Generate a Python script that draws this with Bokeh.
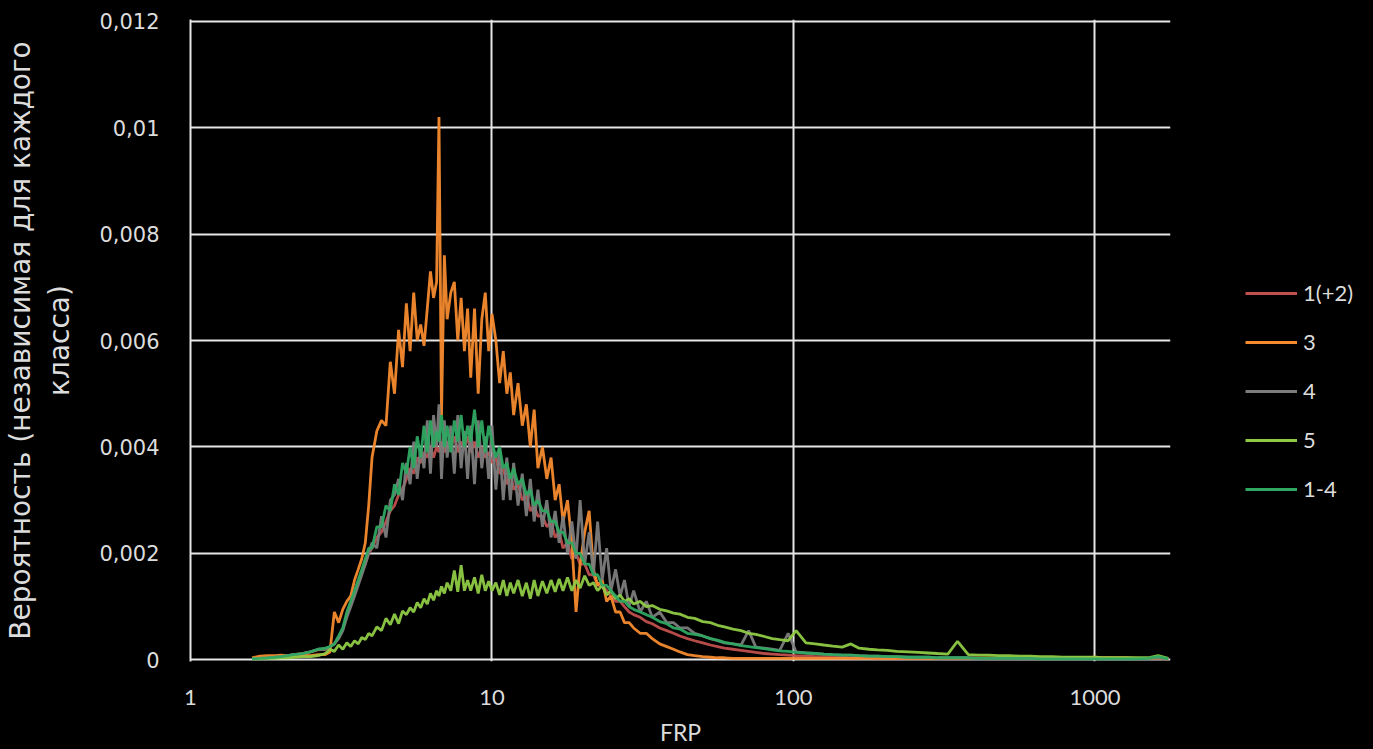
from bokeh.plotting import figure
from bokeh.layouts import row
from bokeh.models import FixedTicker, Legend, LegendItem, Range1d
from bokeh.embed import file_html
from bokeh.resources import INLINE

FRP = [
    1.6, 1.7, 1.8, 1.9, 2.0, 2.1, 2.2, 2.35, 2.5, 2.65,
    2.8, 2.9, 3.0, 3.1, 3.2, 3.3, 3.4, 3.5, 3.6, 3.7,
    3.8, 3.9, 4.0, 4.15, 4.3, 4.45, 4.6, 4.75, 4.9, 5.05,
    5.2, 5.35, 5.5, 5.65, 5.8, 5.95, 6.1, 6.25, 6.4, 6.55,
    6.67, 6.8, 6.95, 7.1, 7.3, 7.5, 7.7, 7.9, 8.1, 8.3,
    8.5, 8.75, 9.0, 9.25, 9.5, 9.75, 10.0, 10.3, 10.6, 10.9,
    11.2, 11.5, 11.8, 12.2, 12.6, 13.0, 13.4, 13.8, 14.2, 14.7,
    15.2, 15.7, 16.2, 16.7, 17.2, 17.8, 18.4, 19.0, 19.6, 20.3,
    21.0, 21.7, 22.4, 23.2, 24.0, 24.8, 25.7, 26.6, 27.5, 28.5,
    29.5, 31, 32.5, 34, 36, 38, 40, 42, 44.5, 47,
    50, 53, 56, 59, 63, 67, 71, 75, 80, 85,
    90, 96, 102, 110, 118, 126, 135, 145, 155, 165,
    178, 190, 205, 220, 240, 260, 280, 300, 325, 350,
    380, 410, 445, 480, 520, 560, 610, 660, 720, 780,
    850, 920, 1000, 1080, 1170, 1270, 1380, 1500, 1620, 1750,
]

class_1_2 = [
    0.00003, 0.00003, 0.00004, 0.00005, 0.00006, 0.00008, 0.0001, 0.00012, 0.00015, 0.00019,
    0.0002, 0.00024, 0.0003, 0.00042, 0.00058, 0.00085, 0.00105, 0.00125, 0.00145, 0.00165,
    0.0018, 0.0020, 0.0021, 0.0023, 0.0024, 0.0026, 0.0028, 0.0029, 0.0031, 0.0032,
    0.0034, 0.0036, 0.0035, 0.0038, 0.0037, 0.0039, 0.0038, 0.0040, 0.0038, 0.0040,
    0.0039, 0.0041, 0.0039, 0.0041, 0.0040, 0.0042, 0.0039, 0.0041, 0.0040, 0.0042,
    0.0039, 0.0041, 0.0038, 0.0040, 0.0038, 0.0039, 0.0037, 0.0038, 0.0035, 0.0036,
    0.0033, 0.0035, 0.0032, 0.0033, 0.0030, 0.0031, 0.0028, 0.0029, 0.0027, 0.0027,
    0.0025, 0.0026, 0.0023, 0.0024, 0.0021, 0.0022, 0.0019, 0.0020, 0.0018, 0.0018,
    0.0016, 0.0016, 0.0014, 0.0014, 0.0013, 0.0012, 0.0011, 0.0011, 0.0010, 0.0009,
    0.00085, 0.0008, 0.00072, 0.00068, 0.0006, 0.00055, 0.0005, 0.00045, 0.0004, 0.00036,
    0.00032, 0.00028, 0.00025, 0.00022, 0.0002, 0.00018, 0.00016, 0.00014, 0.00012, 0.00011,
    0.0001, 0.00009, 0.00008, 0.00007, 0.00006, 0.00006, 0.00005, 0.00005, 0.00004, 0.00004,
    0.00004, 0.00003, 0.00004, 0.00003, 0.00003, 0.00003, 0.00003, 0.00003, 0.00003, 0.00003,
    0.00003, 0.00004, 0.00003, 0.00004, 0.00003, 0.00004, 0.00004, 0.00003, 0.00004, 0.00003,
    0.00004, 0.00004, 0.00004, 0.00004, 0.00003, 0.00004, 0.00003, 0.00003, 0.00003, 0.00002,
]

class_3 = [
    0.00004, 0.00007, 0.00008, 0.00008, 0.00009, 0.00008, 0.00008, 0.00009, 0.00008, 0.0001,
    0.0001, 0.00015, 0.0009, 0.0007, 0.00095, 0.0011, 0.0012, 0.0015, 0.0017, 0.0019,
    0.0022, 0.0029, 0.0038, 0.0043, 0.0045, 0.0044, 0.0056, 0.0050, 0.0062, 0.0055,
    0.0067, 0.0058, 0.0069, 0.0060, 0.0063, 0.0059, 0.0066, 0.0073, 0.0068, 0.0071,
    0.0102, 0.0046, 0.0076, 0.0064, 0.0069, 0.0071, 0.0060, 0.0068, 0.0058, 0.0066,
    0.0053, 0.0066, 0.0050, 0.0064, 0.0069, 0.0058, 0.0065, 0.0060, 0.0052, 0.0058,
    0.0050, 0.0054, 0.0046, 0.0052, 0.0044, 0.0048, 0.0040, 0.0047, 0.0036, 0.0040,
    0.0034, 0.0038, 0.0030, 0.0033, 0.0026, 0.0030, 0.0022, 0.0009, 0.0018, 0.0024,
    0.0028, 0.0017, 0.0014, 0.0015, 0.0011, 0.0012, 0.0009, 0.0009, 0.0007, 0.0007,
    0.0006, 0.0005, 0.0005, 0.0004, 0.0003, 0.00025, 0.0002, 0.00015, 0.0001, 0.00008,
    0.00006, 0.00005, 0.00004, 0.00004, 0.00003, 0.00003, 0.00003, 0.00003, 0.00003, 0.00003,
    0.00003, 0.00003, 0.00003, 0.00003, 0.00003, 0.00003, 0.00003, 0.00003, 0.00003, 0.00003,
    0.00003, 0.00003, 0.00003, 0.00003, 0.00003, 0.00003, 0.00003, 0.00003, 0.00003, 0.00003,
    0.00004, 0.00003, 0.00004, 0.00003, 0.00004, 0.00003, 0.00004, 0.00004, 0.00003, 0.00004,
    0.00004, 0.00004, 0.00005, 0.00004, 0.00004, 0.00004, 0.00003, 0.00003, 0.00003, 0.00002,
]

class_4 = [
    0.00002, 0.00003, 0.00004, 0.00005, 0.00006, 0.00008, 0.0001, 0.00012, 0.00015, 0.0002,
    0.0002, 0.00025, 0.0003, 0.0004, 0.00055, 0.0008, 0.0010, 0.0012, 0.0014, 0.0016,
    0.0018, 0.0020, 0.0022, 0.0021, 0.0027, 0.0023, 0.0030, 0.0031, 0.0034, 0.0030,
    0.0037, 0.0033, 0.0041, 0.0034, 0.0040, 0.0036, 0.0045, 0.0035, 0.0046, 0.0040,
    0.0048, 0.0034, 0.0045, 0.0038, 0.0044, 0.0035, 0.0046, 0.0036, 0.0043, 0.0034,
    0.0044, 0.0033, 0.0045, 0.0036, 0.0042, 0.0034, 0.0044, 0.0032, 0.0040, 0.0030,
    0.0038, 0.0030, 0.0037, 0.0029, 0.0035, 0.0027, 0.0034, 0.0026, 0.0032, 0.0025,
    0.0030, 0.0023, 0.0028, 0.0022, 0.0027, 0.0020, 0.0026, 0.0019, 0.0030, 0.0018,
    0.0024, 0.0016, 0.0026, 0.0015, 0.0021, 0.0013, 0.0017, 0.0012, 0.0015, 0.0010,
    0.0013, 0.0009, 0.0011, 0.0008, 0.0009, 0.0007, 0.0007, 0.0006, 0.0006, 0.0005,
    0.00045, 0.0004, 0.00036, 0.00032, 0.0003, 0.00028, 0.00055, 0.00024, 0.00022, 0.0002,
    0.00018, 0.0005, 0.00015, 0.00013, 0.00012, 0.00011, 0.0001, 0.00009, 0.00009, 0.00008,
    0.00007, 0.00007, 0.00006, 0.00006, 0.00005, 0.00005, 0.00005, 0.00004, 0.00004, 0.00004,
    0.00004, 0.00003, 0.00003, 0.00003, 0.00003, 0.00003, 0.00003, 0.00002, 0.00002, 0.00002,
    0.00002, 0.00002, 0.00002, 0.00002, 0.00002, 0.00002, 0.00002, 0.00003, 0.00004, 0.00002,
]

class_5 = [
    0.00002, 0.00002, 0.00003, 0.00003, 0.00004, 0.00004, 0.00005, 0.00006, 0.00006, 0.00008,
    0.00012, 0.0002, 0.00016, 0.00028, 0.0002, 0.00032, 0.00025, 0.00036, 0.0003, 0.00042,
    0.00038, 0.0005, 0.00045, 0.00062, 0.00055, 0.00078, 0.00066, 0.00086, 0.00068, 0.00092,
    0.00085, 0.00098, 0.0009, 0.00108, 0.00098, 0.00115, 0.00105, 0.00125, 0.00112, 0.0013,
    0.0012, 0.00138, 0.00125, 0.00145, 0.0013, 0.00168, 0.00128, 0.00178, 0.0013, 0.0015,
    0.0013, 0.00155, 0.00125, 0.0016, 0.0013, 0.00148, 0.0013, 0.00145, 0.00122, 0.0015,
    0.0012, 0.00145, 0.00125, 0.0015, 0.0012, 0.00145, 0.00115, 0.0015, 0.0012, 0.00148,
    0.00125, 0.0015, 0.00128, 0.00152, 0.0013, 0.00155, 0.0013, 0.0015, 0.00135, 0.00158,
    0.0014, 0.00145, 0.0013, 0.0014, 0.00122, 0.0013, 0.00115, 0.00122, 0.0011, 0.00115,
    0.00105, 0.0011, 0.001, 0.00102, 0.00095, 0.00092, 0.00088, 0.00086, 0.0008, 0.00078,
    0.00072, 0.0007, 0.00065, 0.00062, 0.00058, 0.00055, 0.0005, 0.00048, 0.00044, 0.0004,
    0.00038, 0.00036, 0.00055, 0.00032, 0.0003, 0.00028, 0.00026, 0.00024, 0.0003, 0.00022,
    0.0002, 0.00019, 0.00018, 0.00016, 0.00015, 0.00014, 0.00013, 0.00012, 0.00011, 0.00035,
    0.0001, 0.00009, 0.00009, 0.00008, 0.00008, 0.00007, 0.00007, 0.00006, 0.00006, 0.00005,
    0.00005, 0.00005, 0.00005, 0.00004, 0.00004, 0.00004, 0.00004, 0.00004, 0.00008, 0.00003,
]

class_1_4 = [
    0.00002, 0.00003, 0.00004, 0.00005, 0.00006, 0.00008, 0.0001, 0.00012, 0.00015, 0.0002,
    0.00022, 0.00025, 0.0003, 0.00045, 0.0006, 0.0009, 0.0011, 0.0013, 0.0015, 0.0017,
    0.0019, 0.0021, 0.0021, 0.0025, 0.0025, 0.0029, 0.0028, 0.0033, 0.0031, 0.0037,
    0.0035, 0.0040, 0.0036, 0.0042, 0.0038, 0.0044, 0.0039, 0.0045, 0.0040, 0.0043,
    0.0041, 0.0046, 0.0040, 0.0044, 0.0039, 0.0045, 0.0041, 0.0046, 0.0040, 0.0044,
    0.0041, 0.0047, 0.0040, 0.0045, 0.0039, 0.0044, 0.0041, 0.0038, 0.0040, 0.0036,
    0.0037, 0.0034, 0.0036, 0.0033, 0.0034, 0.0031, 0.0032, 0.0029, 0.0030, 0.0028,
    0.0028, 0.0026, 0.0026, 0.0024, 0.0024, 0.0022, 0.0022, 0.0020, 0.0020, 0.0018,
    0.0018, 0.0016, 0.0016, 0.0014, 0.0014, 0.0013, 0.0012, 0.0011, 0.0011, 0.0010,
    0.00095, 0.0009, 0.00085, 0.0008, 0.00072, 0.00068, 0.0006, 0.00058, 0.0005, 0.00048,
    0.00045, 0.0004, 0.00037, 0.00033, 0.0003, 0.00027, 0.00025, 0.00023, 0.00021, 0.00019,
    0.00017, 0.00016, 0.00014, 0.00013, 0.00012, 0.00011, 0.0001, 0.00009, 0.00009, 0.00008,
    0.00007, 0.00007, 0.00006, 0.00006, 0.00005, 0.00005, 0.00005, 0.00004, 0.00004, 0.00004,
    0.00004, 0.00003, 0.00003, 0.00003, 0.00003, 0.00003, 0.00003, 0.00002, 0.00002, 0.00002,
    0.00002, 0.00002, 0.00002, 0.00002, 0.00002, 0.00002, 0.00002, 0.00003, 0.00006, 0.00002,
]

series_names = ["1(+2)", "3", "4", "5", "1-4"]
series_values = [class_1_2, class_3, class_4, class_5, class_1_4]
series_colors = ["#c0504d", "#f68a2e", "#7c7c7c", "#8fca45", "#2fa862"]

y_ticks = [0, 0.002, 0.004, 0.006, 0.008, 0.01, 0.012]
y_tick_labels = ["0", "0,002", "0,004", "0,006", "0,008", "0,01", "0,012"]
x_ticks = [1, 10, 100, 1000]
x_tick_labels = ["1", "10", "100", "1000"]

TXT = "#dcdcdc"
GRID = "#e6e6e6"
LINE_W = 2.8
BLACK = {"background-color": "black"}

p = figure(width=1190, height=749, x_axis_type="log",
           x_range=Range1d(1, 1780), y_range=Range1d(-0.00003, 0.01203),
           output_backend="svg", toolbar_location=None,
           min_border_left=188, min_border_right=20,
           min_border_top=19, min_border_bottom=88, styles=BLACK)
p.background_fill_color = "black"
p.border_fill_color = "black"
p.outline_line_color = None

for vals, col in zip(series_values, series_colors):
    p.line(FRP, vals, line_color=col, line_width=LINE_W, line_alpha=0.95)

p.xaxis.ticker = FixedTicker(ticks=x_ticks, minor_ticks=[])
p.xaxis.major_label_overrides = {t: s for t, s in zip(x_ticks, x_tick_labels)}
p.yaxis.ticker = FixedTicker(ticks=y_ticks, minor_ticks=[])
p.yaxis.major_label_overrides = {t: s for t, s in zip(y_ticks, y_tick_labels)}

for ax in (p.xaxis[0], p.yaxis[0]):
    ax.axis_line_color = None
    ax.major_tick_line_color = None
    ax.minor_tick_line_color = None
    ax.major_label_text_color = TXT
    ax.axis_label_text_color = TXT
    ax.axis_label_text_font_style = "normal"

# vertical axis line at the left edge of the plot area
p.yaxis.axis_line_color = GRID
p.yaxis.axis_line_width = 2

p.xaxis.major_label_text_font = "Lato"
p.xaxis.major_label_text_font_size = "22px"
p.xaxis.axis_label_text_font = "Lato"
p.xaxis.axis_label_text_font_size = "23px"
p.xaxis.axis_label = "FRP"
p.xaxis.major_label_standoff = 22
p.xaxis.axis_label_standoff = 10

p.yaxis.major_label_text_font = "DejaVu Sans"
p.yaxis.major_label_text_font_size = "21px"
p.yaxis.axis_label_text_font = "DejaVu Sans"
p.yaxis.axis_label_text_font_size = "28px"
p.yaxis.axis_label = "Вероятность (независимая для каждого\nкласса)"
p.yaxis.major_label_standoff = 25
p.yaxis.axis_label_standoff = 20

for g in (p.xgrid[0], p.ygrid[0]):
    g.grid_line_color = GRID
    g.grid_line_width = 2

# legend panel to the right of the chart; its proxy lines use the same
# series, but its ranges keep them out of view so only the legend shows
q = figure(width=183, height=749, output_backend="svg", toolbar_location=None,
           x_axis_type="log", x_range=Range1d(1e-9, 1e-8), y_range=Range1d(0, 1),
           x_axis_location=None, y_axis_location=None,
           min_border_left=0, min_border_right=0, min_border_top=0, min_border_bottom=0,
           styles=BLACK)
q.background_fill_color = "black"
q.border_fill_color = "black"
q.outline_line_color = None
q.xgrid.visible = False
q.ygrid.visible = False

items = []
for name, vals, col in zip(series_names, series_values, series_colors):
    r = q.line(FRP, vals, line_color=col, line_width=LINE_W)
    items.append(LegendItem(label=name, renderers=[r]))

legend = Legend(items=items, location=(55, 159))
legend.background_fill_alpha = 0
legend.border_line_color = None
legend.label_text_color = TXT
legend.label_text_font = "Lato"
legend.label_text_font_size = "22px"
legend.glyph_width = 52
legend.glyph_height = 26
legend.label_height = 26
legend.spacing = 22
legend.padding = 0
legend.margin = 0
legend.label_standoff = 6
q.add_layout(legend)

layout = row(p, q, spacing=0, styles=BLACK)
open("out.html", "w").write(file_html(layout, INLINE))
